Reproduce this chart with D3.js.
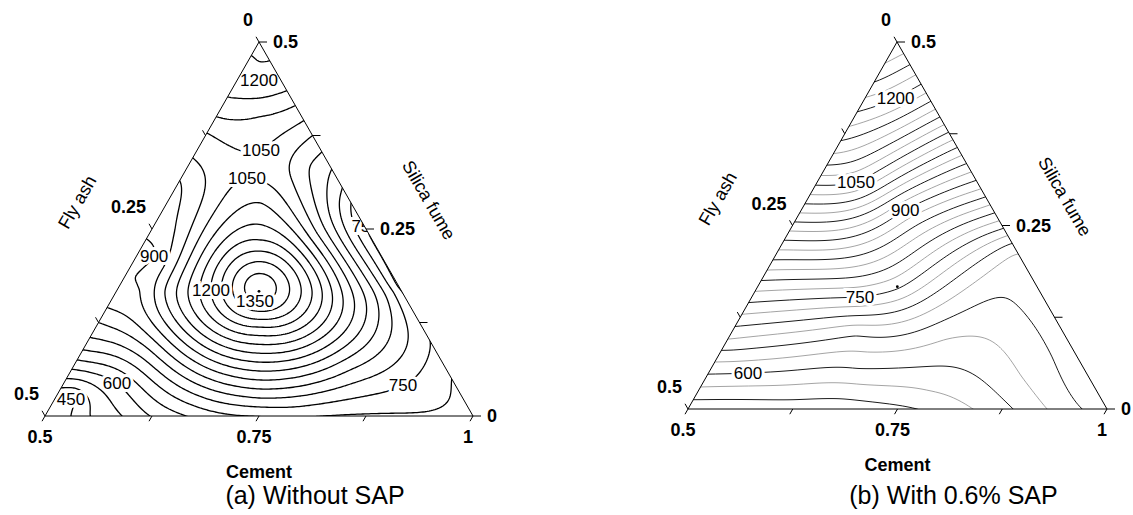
<!DOCTYPE html>
<html>
<head>
<meta charset="utf-8">
<script src="https://cdn.jsdelivr.net/npm/d3@7"></script>
<style>
  body { margin: 0; background: #fff; }
  text { font-family: "Liberation Sans", Arial, sans-serif; }
</style>
</head>
<body>
<div id="viz"></div>
<script>
// Ternary contour plots of strength readings (fly ash = 1 - cement - silica fume)

// (a) without SAP : readings taken off the contour lines
const cementA = [0.5, 1, 0.5, 0.5, 0.5, 0.5, 0.5, 0.5, 0.5, 0.5, 0.5, 0.5, 0.5, 0.5, 0.5, 0.5, 0.5, 0.5, 0.5, 0.5, 0.5,
  0.53, 0.5525, 0.59, 0.6225, 0.665, 0.75, 0.825, 0.9,
  0.95, 0.9, 0.825, 0.75, 0.715, 0.695, 0.67, 0.647, 0.625, 0.605, 0.585, 0.565, 0.545, 0.525,
  0.6667, 0.6105, 0.6335, 0.7285, 0.6915, 0.5835, 0.609, 0.7515, 0.715, 0.739, 0.5565, 0.5275, 0.775, 0.8, 0.823,
  0.5835, 0.5755, 0.5755, 0.55, 0.5375, 0.525, 0.513, 0.5785, 0.617, 0.8255, 0.939, 0.8985, 0.562, 0.5195,
  0.521, 0.542, 0.5275, 0.634, 0.6955, 0.6425, 0.673];
const silicaA = [0, 0, 0.5, 0.0225, 0.0375, 0.05, 0.0625, 0.075, 0.0885, 0.105, 0.125, 0.145, 0.182, 0.25, 0.315, 0.345, 0.3785, 0.4, 0.4265, 0.455, 0.4825,
  0, 0, 0, 0, 0, 0, 0, 0,
  0.05, 0.1, 0.175, 0.25, 0.285, 0.305, 0.33, 0.353, 0.375, 0.395, 0.415, 0.435, 0.455, 0.475,
  0.1667, 0.167, 0.2353, 0.167, 0.119, 0.167, 0.285, 0.167, 0.072, 0.024, 0.167, 0.167, 0.167, 0.167, 0.167,
  0.3355, 0.3555, 0.318, 0.4, 0.425, 0.449, 0.4735, 0.088, 0.1285, 0.0615, 0.0215, 0.0415, 0.044, 0.024,
  0.215, 0.2715, 0.2485, 0.3115, 0.2445, 0.334, 0.3155];
const strengthA = [400, 685, 1300, 450, 500, 550, 600, 650, 700, 750, 800, 850, 900, 915, 950, 1000, 1050, 1100, 1150, 1200, 1250,
  450, 500, 550, 600, 650, 702, 700, 694,
  700, 750, 742, 752, 800, 850, 900, 950, 1000, 1050, 1100, 1150, 1200, 1250,
  1385, 1200, 1200, 1200, 1200, 1100, 1100, 1100, 1000, 800, 1000, 900, 1000, 900, 800,
  1035, 1050, 1050, 1100, 1150, 1200, 1250, 800, 1100, 850, 712, 750, 600, 450,
  900, 1000, 950, 1000, 1000, 950, 900];
const levelsA = d3.range(450, 1400, 50);
const labelValA = [1200, 1050, 1050, 900, 1200, 1350, 600, 450, 750, 750];
const labelCemA = [0.5245, 0.577, 0.5745, 0.521, 0.6105, 0.6685, 0.562, 0.5195, 0.8985, 0.742];
const labelSilA = [0.449, 0.353, 0.321, 0.215, 0.167, 0.147, 0.044, 0.024, 0.0415, 0.25];

// (b) with 0.6% SAP
const cementB = [0.5, 1, 0.5,
  0.5, 0.5, 0.5, 0.5, 0.5, 0.5, 0.5, 0.5, 0.5, 0.5, 0.5, 0.5, 0.5,
  0.9, 0.825, 0.7875, 0.75, 0.7, 0.65, 0.6, 0.55,
  0.625, 0.7735, 0.84, 0.888, 0.9285, 0.97,
  0.675, 0.775, 0.675, 0.546, 0.675, 0.75, 0.86, 0.675, 0.76, 0.875, 0.65, 0.7785, 0.9,
  0.629, 0.6667, 0.6235, 0.547, 0.533];
const silicaB = [0, 0, 0.5,
  0.0125, 0.03, 0.0475, 0.064, 0.08, 0.095, 0.1125, 0.145, 0.175, 0.23, 0.305, 0.405, 0.45,
  0.1, 0.175, 0.2125, 0.25, 0.3, 0.35, 0.4, 0.45,
  0, 0, 0, 0, 0, 0,
  0.014, 0.025, 0.035, 0.049, 0.055, 0.0575, 0.02, 0.0775, 0.095, 0.045, 0.1, 0.145, 0.07,
  0.1525, 0.1667, 0.271, 0.3095, 0.421];
const strengthB = [530, 662, 1300,
  550, 575, 600, 625, 650, 675, 700, 750, 800, 900, 1050, 1200, 1255,
  665, 670, 675, 760, 875, 985, 1105, 1215,
  535, 550, 575, 600, 625, 650,
  550, 575, 575, 600, 600, 600, 600, 625, 625, 625, 650, 650, 650,
  750, 755, 900, 1050, 1200];
const levelsB = d3.range(550, 1301, 25);
const labelValB = [1200, 1050, 900, 750, 600];
const labelCemB = [0.539, 0.547, 0.6235, 0.629, 0.546];
const labelSilB = [0.421, 0.3095, 0.271, 0.1525, 0.049];

// axes
const cementTicks = [0.5, 0.625, 0.75, 0.875, 1];
const cementTickText = ["0.5", "", "0.75", "", "1"];
const flyAshTicks = [0, 0.125, 0.25, 0.375, 0.5];
const flyAshTickText = ["0", "", "0.25", "", "0.5"];
const silicaTicks = [0, 0.125, 0.25, 0.375, 0.5];
const silicaTickText = ["0", "", "0.25", "", "0.5"];
const designCement = [2 / 3];
const designSilica = [1 / 6];

// thin plate spline through the readings
function fitSurface(xs, ys, zs, lambda) {
  const n = xs.length, m = n + 3;
  const phi = r => r > 1e-12 ? r * r * Math.log(r) : 0;
  const A = [];
  for (let i = 0; i < m; i++) A.push(new Float64Array(m + 1));
  for (let i = 0; i < n; i++) {
    for (let j = 0; j < n; j++) A[i][j] = phi(Math.hypot(xs[i] - xs[j], ys[i] - ys[j])) + (i === j ? lambda : 0);
    A[i][n] = 1; A[i][n + 1] = xs[i]; A[i][n + 2] = ys[i];
    A[n][i] = 1; A[n + 1][i] = xs[i]; A[n + 2][i] = ys[i];
    A[i][m] = zs[i];
  }
  for (let c = 0; c < m; c++) {
    let p = c;
    for (let r = c + 1; r < m; r++) if (Math.abs(A[r][c]) > Math.abs(A[p][c])) p = r;
    const tmp = A[c]; A[c] = A[p]; A[p] = tmp;
    for (let r = 0; r < m; r++) {
      if (r === c) continue;
      const f = A[r][c] / A[c][c];
      if (f) for (let k = c; k <= m; k++) A[r][k] -= f * A[c][k];
    }
  }
  const w = A.map((row, i) => row[m] / row[i]);
  return (x, y) => {
    let v = w[n] + w[n + 1] * x + w[n + 2] * y;
    for (let i = 0; i < n; i++) v += w[i] * phi(Math.hypot(x - xs[i], y - ys[i]));
    return v;
  };
}

const width = 1133, height = 515;
const svg = d3.select("#viz").append("svg")
  .attr("width", width).attr("height", height)
  .attr("viewBox", `0 0 ${width} ${height}`);

const panels = [
  { id: "a", bl: [45, 416], br: [473, 416], ap: [259, 42],
    cement: cementA, silica: silicaA, value: strengthA, levels: levelsA,
    labVal: labelValA, labCem: labelCemA, labSil: labelSilA, smooth: 1e-4,
    color: () => "#000", lw: 1.3, caption: "(a) Without SAP" },
  { id: "b", bl: [688, 409], br: [1107, 409], ap: [897, 42],
    cement: cementB, silica: silicaB, value: strengthB, levels: levelsB,
    labVal: labelValB, labCem: labelCemB, labSil: labelSilB, smooth: 4e-4,
    color: v => (v % 50 === 0 ? "#000" : "#9a9a9a"), lw: 0.9, caption: "(b) With 0.6% SAP" }
];

panels.forEach(p => {
  const W = p.br[0] - p.bl[0];
  const Hh = p.bl[1] - p.ap[1];
  const bScale = d3.scaleLinear().domain([0.5, 1]).range([0, 1]);   // cement -> pseudo
  const tScale = d3.scaleLinear().domain([0, 0.5]).range([0, 1]);   // silica fume -> pseudo
  const sx = (c, s) => p.bl[0] + bScale(c) * W + tScale(s) * (p.ap[0] - p.bl[0]);
  const sy = (c, s) => p.bl[1] - tScale(s) * Hh;
  const norm = (b, t) => [b + t / 2, t * Math.sqrt(3) / 2];

  const pts = p.cement.map((c, i) => norm(bScale(c), tScale(p.silica[i])));
  const surf = fitSurface(pts.map(d => d[0]), pts.map(d => d[1]), p.value, p.smooth);

  // grid over the triangle's box
  const step = 2;
  const gx0 = p.bl[0] - 6, gy0 = p.ap[1] - 6;
  const nx = Math.ceil((W + 12) / step) + 1;
  const ny = Math.ceil((Hh + 12) / step) + 1;
  const vals = new Float64Array(nx * ny);
  for (let j = 0; j < ny; j++) {
    for (let i = 0; i < nx; i++) {
      const x = gx0 + i * step, y = gy0 + j * step;
      const t = (p.bl[1] - y) / Hh;
      const b = (x - p.bl[0] - t * (p.ap[0] - p.bl[0])) / W;
      const q = norm(b, t);
      vals[i + j * nx] = surf(q[0], q[1]);
    }
  }
  const contours = d3.contours().size([nx, ny]).thresholds(p.levels)(vals);
  const proj = d3.geoIdentity().scale(step).translate([gx0 - step / 2, gy0 - step / 2]);
  const path = d3.geoPath(proj);

  const tri = [p.bl, p.br, p.ap];
  svg.append("clipPath").attr("id", "clip-" + p.id)
    .append("polygon").attr("points", tri.map(d => d.join(",")).join(" "));

  const g = svg.append("g").attr("clip-path", `url(#clip-${p.id})`);
  g.selectAll("path").data(contours).join("path")
    .attr("d", path)
    .attr("fill", "none")
    .attr("stroke", d => p.color(d.value))
    .attr("stroke-width", p.lw);

  // contour labels snapped onto their line
  p.labVal.forEach((v, k) => {
    const hx = sx(p.labCem[k], p.labSil[k]), hy = sy(p.labCem[k], p.labSil[k]);
    const c = contours.find(d => d.value === v);
    let best = [hx, hy], bd = Infinity;
    if (c) c.coordinates.forEach(poly => poly.forEach(ring => ring.forEach(pt => {
      const X = gx0 + (pt[0] - 0.5) * step, Y = gy0 + (pt[1] - 0.5) * step;
      const dd = (X - hx) ** 2 + (Y - hy) ** 2;
      if (dd < bd) { bd = dd; best = [X, Y]; }
    })));
    if (bd > 400) best = [hx, hy];
    g.append("text")
      .attr("x", best[0]).attr("y", best[1]).attr("dy", "0.35em")
      .attr("text-anchor", "middle")
      .attr("font-size", 17)
      .attr("stroke", "#fff").attr("stroke-width", 6).attr("paint-order", "stroke")
      .attr("fill", "#000")
      .text(v);
  });

  // design point
  svg.selectAll(null).data(designCement).join("circle")
    .attr("cx", (d, i) => sx(d, designSilica[i]))
    .attr("cy", (d, i) => sy(d, designSilica[i]))
    .attr("r", 1.4).attr("fill", "#000");

  // frame
  svg.append("polygon")
    .attr("points", tri.map(d => d.join(",")).join(" "))
    .attr("fill", "none").attr("stroke", "#000").attr("stroke-width", 1);

  const unit = (a, b) => { const dx = b[0] - a[0], dy = b[1] - a[1], l = Math.hypot(dx, dy); return [dx / l, dy / l]; };
  const dirC = unit(p.ap, p.bl), dirF = unit(p.br, p.ap), dirS = [1, 0];
  const tl = 6;
  const axes = svg.append("g").attr("stroke", "#000").attr("stroke-width", 1);
  const tickText = svg.append("g").attr("font-size", 18).attr("font-weight", "bold").attr("fill", "#000");

  cementTicks.forEach((c, i) => {
    const x = sx(c, 0), y = sy(c, 0);
    axes.append("line").attr("x1", x).attr("y1", y).attr("x2", x + dirC[0] * tl).attr("y2", y + dirC[1] * tl);
    if (cementTickText[i]) tickText.append("text").attr("x", x - 5).attr("y", y + 27)
      .attr("text-anchor", "middle").text(cementTickText[i]);
  });
  flyAshTicks.forEach((f, i) => {
    const x = sx(0.5, 0.5 - f), y = sy(0.5, 0.5 - f);
    axes.append("line").attr("x1", x).attr("y1", y).attr("x2", x + dirF[0] * tl).attr("y2", y + dirF[1] * tl);
    if (flyAshTickText[i]) tickText.append("text").attr("x", x - 6).attr("y", y - 16)
      .attr("text-anchor", "end").text(flyAshTickText[i]);
  });
  silicaTicks.forEach((s, i) => {
    const x = sx(1 - s, s), y = sy(1 - s, s);
    axes.append("line").attr("x1", x).attr("y1", y).attr("x2", x + dirS[0] * (tl + 2)).attr("y2", y);
    if (silicaTickText[i]) tickText.append("text").attr("x", x + 14).attr("y", y + 6)
      .attr("text-anchor", "start").text(silicaTickText[i]);
  });

  // axis titles
  const leftMid = [sx(0.5, 0.25), sy(0.5, 0.25)];
  const rightMid = [sx(0.75, 0.25), sy(0.75, 0.25)];
  const midX = (p.bl[0] + p.br[0]) / 2;
  svg.append("text")
    .attr("transform", `translate(${leftMid[0] - 75},${leftMid[1] - 27}) rotate(-60)`)
    .attr("text-anchor", "middle").attr("dy", "0.35em").attr("font-size", 18).text("Fly ash");
  svg.append("text")
    .attr("transform", `translate(${rightMid[0] + 63},${rightMid[1] - 29}) rotate(60)`)
    .attr("text-anchor", "middle").attr("dy", "0.35em").attr("font-size", 18).text("Silica fume");
  svg.append("text").attr("x", midX).attr("y", p.bl[1] + 62)
    .attr("text-anchor", "middle").attr("font-size", 18).attr("font-weight", "bold").text("Cement");
  svg.append("text").attr("x", midX + 56).attr("y", 504)
    .attr("text-anchor", "middle").attr("font-size", 25).text(p.caption);
});
</script>
</body>
</html>
